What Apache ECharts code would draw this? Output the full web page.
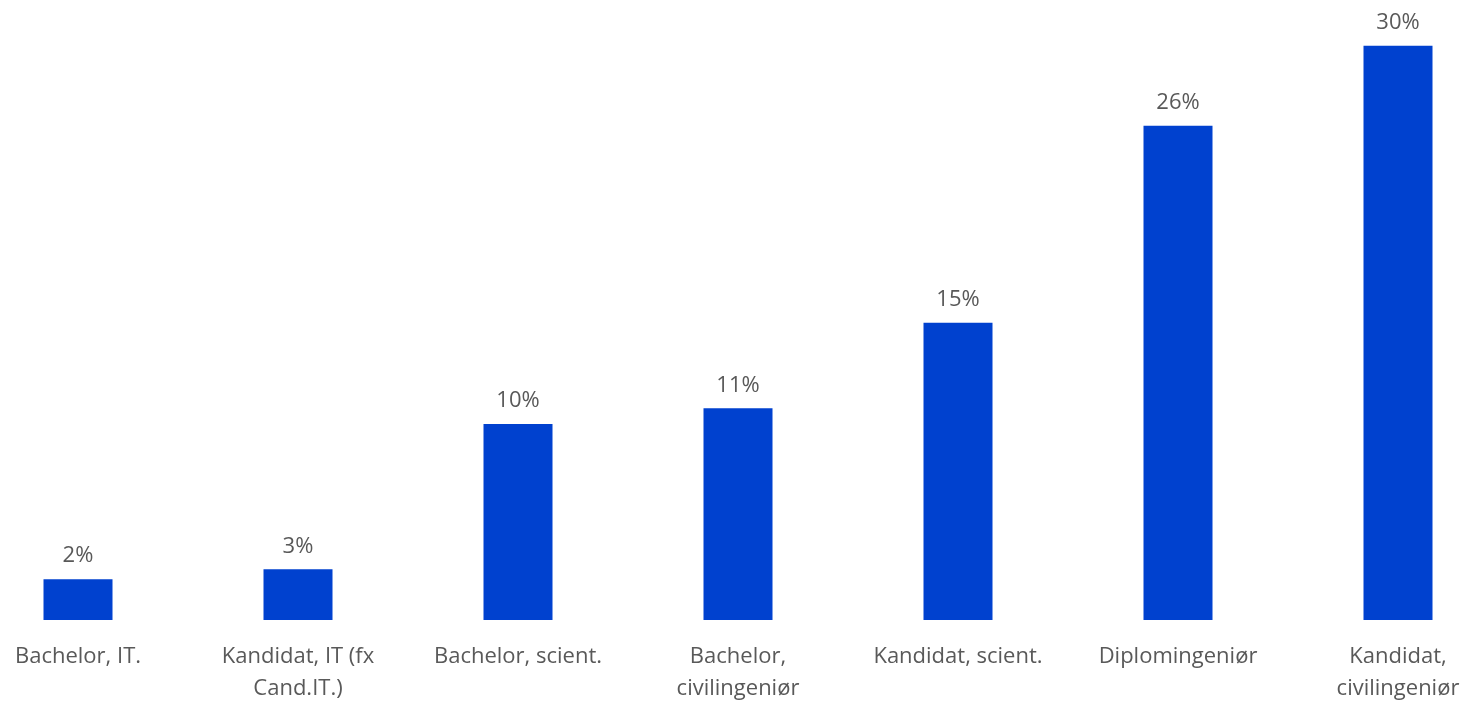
<!DOCTYPE html>
<html>
<head>
<meta charset="utf-8">
<script src="https://cdn.jsdelivr.net/npm/echarts@6/dist/echarts.min.js"></script>
<style>
html,body{margin:0;padding:0;background:#fff;}
#chart{width:1471px;height:701px;}
</style>
</head>
<body>
<div id="chart"></div>
<script>
const categories = ["Bachelor, IT.", "Kandidat, IT (fx Cand.IT.)", "Bachelor, scient.", "Bachelor, civilingeniør", "Kandidat, scient.", "Diplomingeniør", "Kandidat, civilingeniør"];
const tickLabels = ["Bachelor, IT.", "Kandidat, IT (fx\nCand.IT.)", "Bachelor, scient.", "Bachelor,\ncivilingeniør", "Kandidat, scient.", "Diplomingeniør", "Kandidat,\ncivilingeniør"];
const values = [2.11, 2.62, 10.14, 10.95, 15.38, 25.56, 29.7];

const chart = echarts.init(document.getElementById('chart'));
const font = "'Open Sans', 'Noto Sans', sans-serif";
chart.setOption({
  animation: false,
  grid: {left: -32, right: -37, top: 40, bottom: 81, containLabel: false, outerBoundsMode: 'none'},
  xAxis: {
    type: 'category',
    data: categories,
    axisLine: {show: false},
    axisTick: {show: false},
    axisLabel: {
      interval: 0,
      margin: 21,
      color: '#595959',
      fontSize: 22,
      fontFamily: font,
      lineHeight: 32,
      formatter: function (v, i) { return tickLabels[i]; }
    }
  },
  yAxis: {
    type: 'value', min: 0, max: 30, show: false,
    splitLine: {show: false}
  },
  series: [{
    type: 'bar',
    data: values,
    barWidth: 69,
    itemStyle: {color: '#0041CF'},
    label: {
      show: true,
      position: 'top',
      distance: 12,
      color: '#595959',
      fontSize: 22,
      fontFamily: font,
      formatter: function (p) { return Math.round(p.value) + '%'; }
    }
  }]
});
</script>
</body>
</html>
